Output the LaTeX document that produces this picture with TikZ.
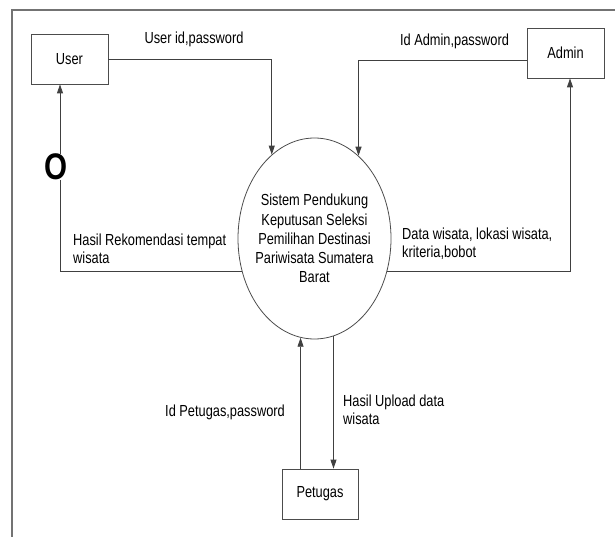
\documentclass[tikz,border=0pt]{standalone}
\usepackage{fontspec}
\setmainfont{Liberation Sans}[FakeStretch=0.8]
\usetikzlibrary{arrows.meta,shapes.geometric}
\begin{document}
\begin{tikzpicture}[x=1pt,y=-1pt,
  box/.style={draw=black!70, line width=0.8pt, minimum width=77pt, minimum height=50pt, inner sep=0pt, font=\fontsize{16}{19}\selectfont},
  proc/.style={ellipse, draw=black!70, line width=0.8pt, minimum width=153pt, minimum height=201pt, inner sep=0pt},
  flow/.style={draw=black!75, line width=0.8pt, -{Triangle[length=9pt,width=6pt]}},
  lbl/.style={inner sep=0pt, font=\fontsize{16}{18.5}\selectfont, text=black},
  frame/.style={draw=black!55, line width=1.5pt}]
\useasboundingbox (0,0) rectangle (615,537);
\draw[frame] (12,537) -- (12,10) -- (615,10);

\node[box] (user) at (69.5,59) {User};
\node[box] (admin) at (565.5,53) {Admin};
\node[box, minimum width=76pt] (pet) at (320,494) {Petugas};
\node[proc, label={[inner sep=0pt, align=center, font=\fontsize{16}{19.2}\selectfont, text=black]center:{Sistem Pendukung\\Keputusan Seleksi\\Pemilihan Destinasi\\Pariwisata Sumatera\\Barat}}] (sys) at (314.5,238.5) {};

\coordinate (uin) at ([xshift=-9.5pt]user.south);
\coordinate (ain) at ([xshift=4.5pt]admin.south);
\coordinate (aout) at ([yshift=-7pt]admin.west);

\draw[flow] (user.east) -| (sys.117);
\draw[flow] (aout) -| (sys.62);
\draw[flow] (sys.204) -| (uin);
\draw[flow] (sys.336) -| (ain);
\draw[flow] (sys.262 |- pet.north) -- (sys.262);
\draw[flow] (sys.281) -- (sys.281 |- pet.north);

\node[inner sep=0pt, fill=white, font=\fontsize{37}{37}\bfseries\selectfont] (o) at (56.5,166.6) {O};

\node[lbl, anchor=base] (l1) at (194,43.3) {User id,password};
\node[lbl, anchor=base] (l2) at (454.5,45.7) {Id Admin,password};
\node[lbl, anchor=north west, align=left] (l3) at (73,233.5) {Hasil Rekomendasi tempat\\wisata};
\node[lbl, anchor=north west, align=left, font=\fontsize{16}{17.5}\selectfont] (l4) at (402,227.8) {Data wisata, lokasi wisata,\\kriteria,bobot};
\node[lbl, anchor=base] (l5) at (225,416) {Id Petugas,password};
\node[lbl, anchor=north west, align=left] (l6) at (343,394.5) {Hasil Upload data\\wisata};
\end{tikzpicture}
\end{document}
